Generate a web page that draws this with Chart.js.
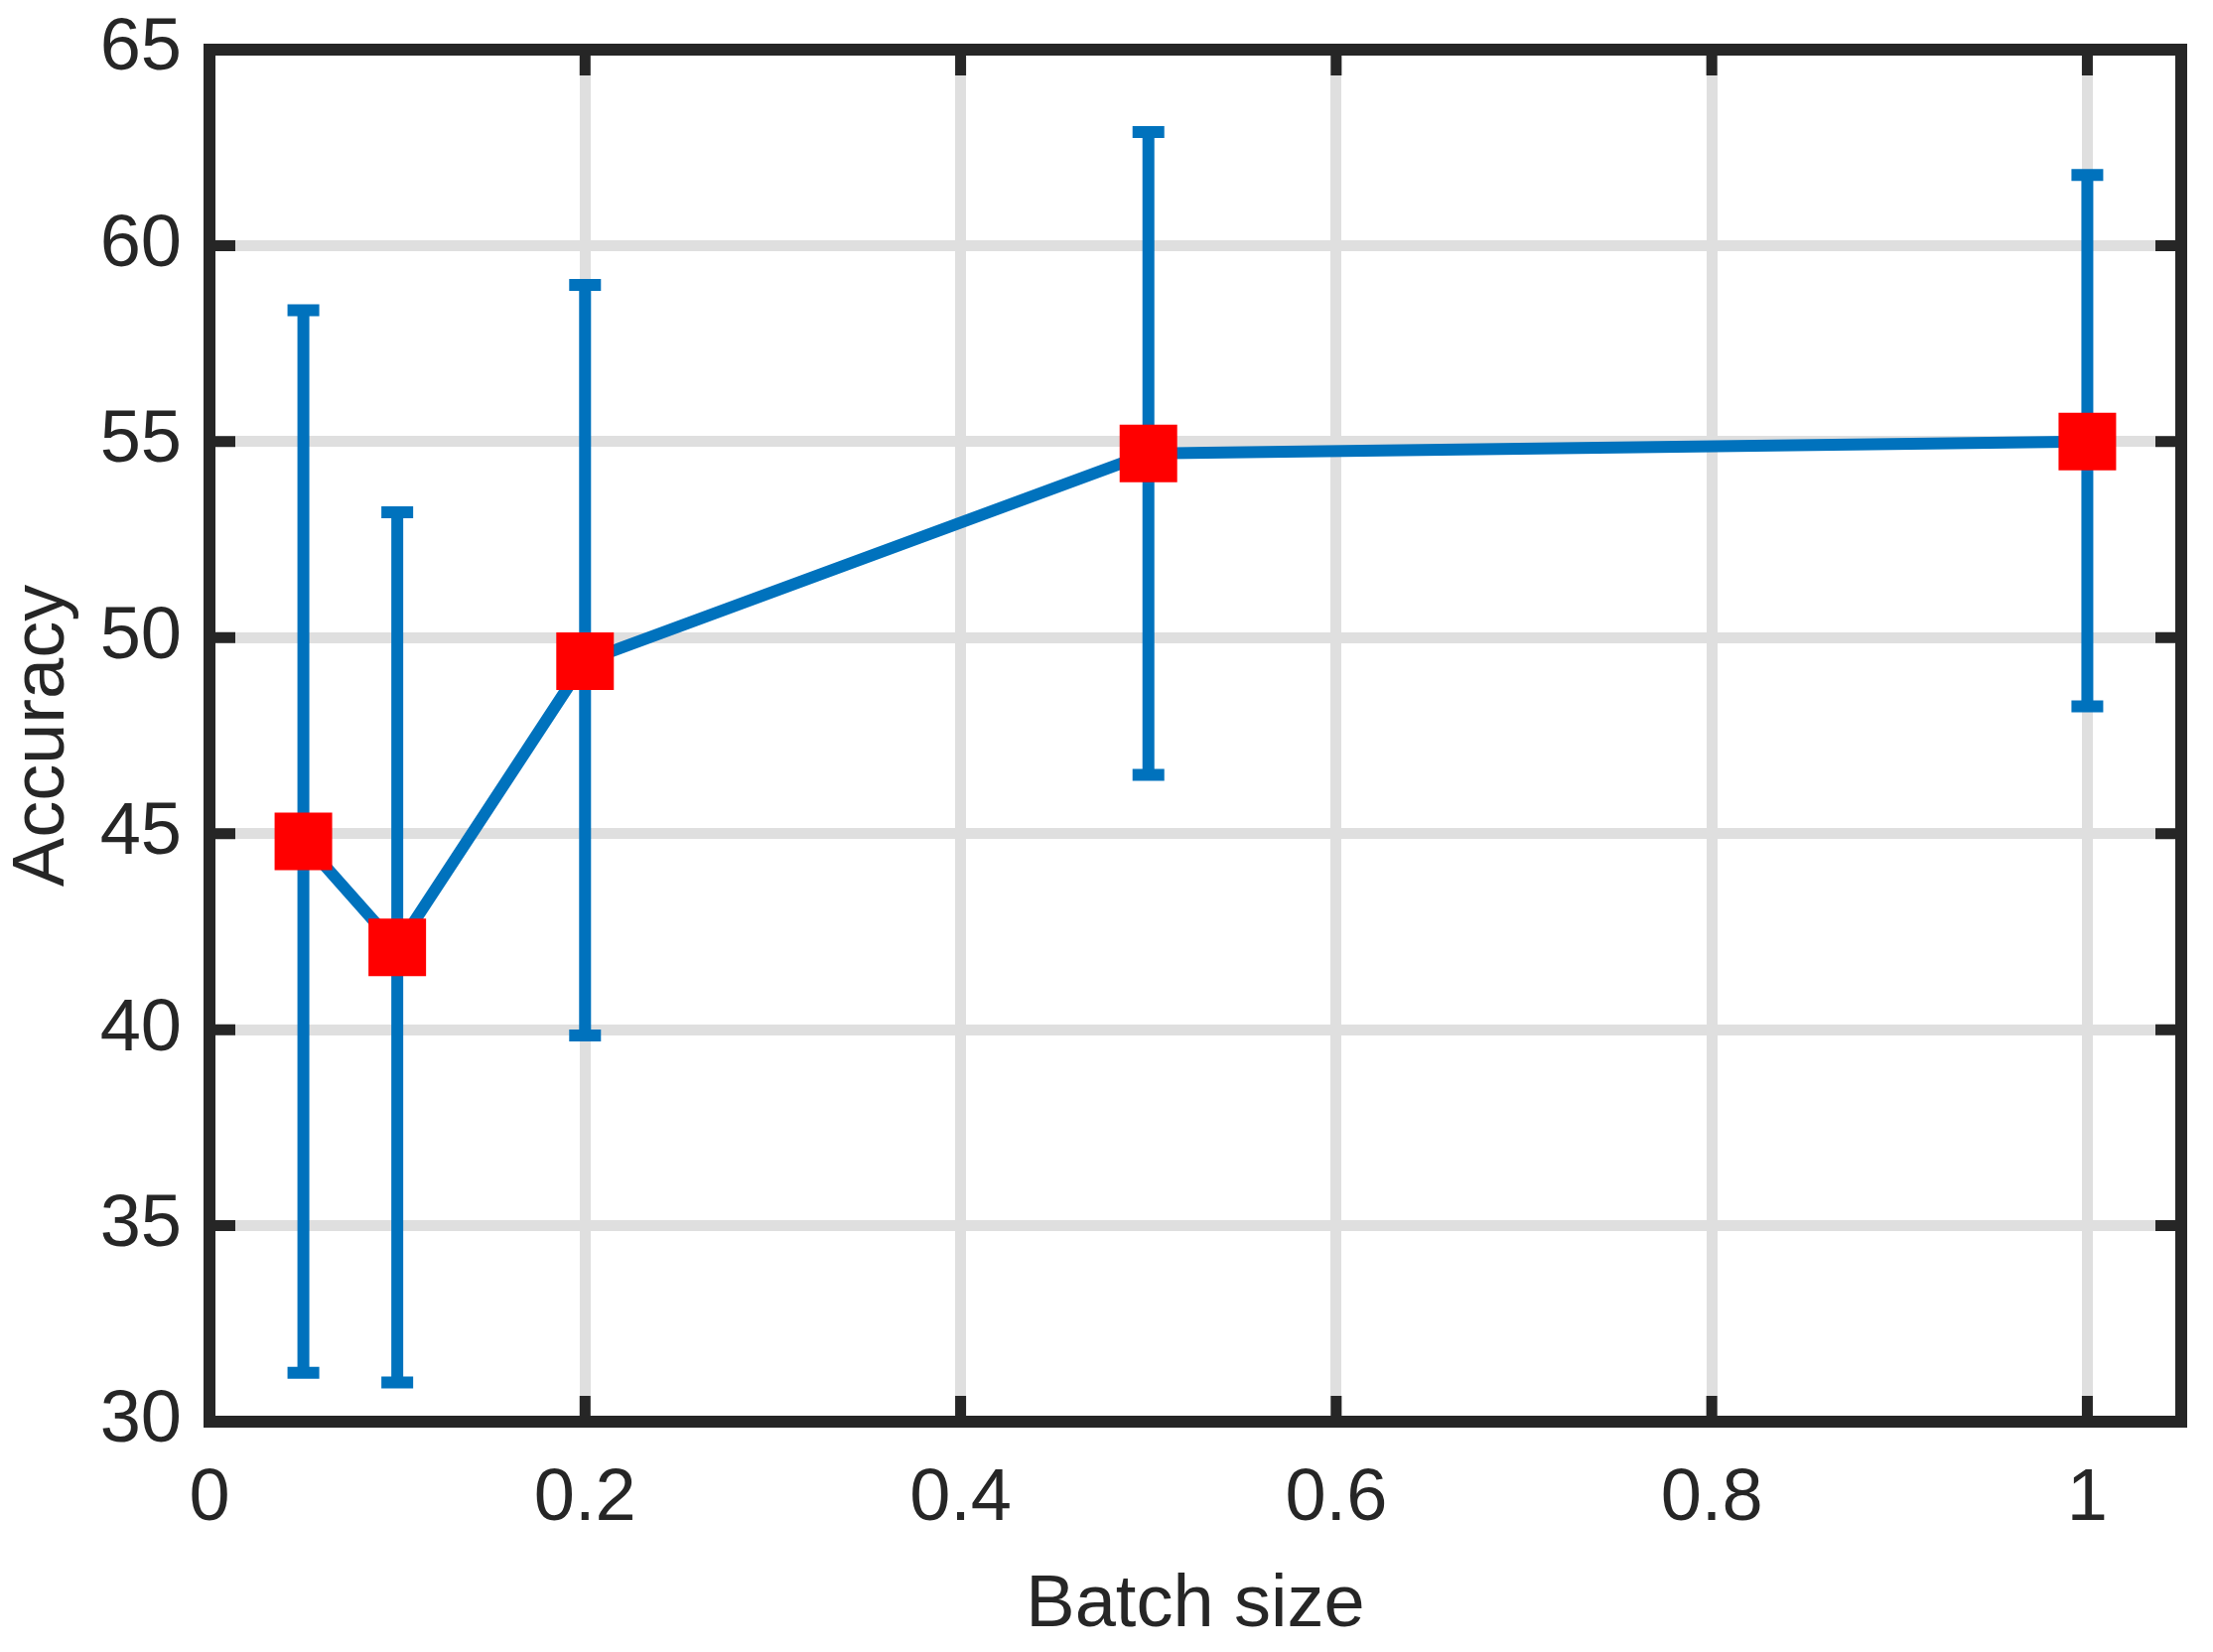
<!DOCTYPE html>
<html>
<head>
<meta charset="utf-8">
<script src="https://cdn.jsdelivr.net/npm/chart.js@4/dist/chart.umd.min.js"></script>
<style>
  html, body { margin: 0; padding: 0; background: #fff; }
</style>
</head>
<body>
<canvas id="accuracy" width="2229" height="1664"></canvas>
<script>
// data --------------------------------------------------------------------------
const batchSizes = [0.05, 0.1, 0.2, 0.5, 1];
const accuracy = [44.8, 42.1, 49.4, 54.7, 55.0];
const errLow = [31.25, 31.0, 39.85, 46.5, 48.25];
const errHigh = [58.35, 53.2, 59.0, 62.9, 61.8];

const xTicks = [0, 0.2, 0.4, 0.6, 0.8, 1];
const xTickLabels = ["0", "0.2", "0.4", "0.6", "0.8", "1"];
const yTicks = [30, 35, 40, 45, 50, 55, 60, 65];
const yTickLabels = ["30", "35", "40", "45", "50", "55", "60", "65"];

const lineBlue = "#0072BD";
const axisDark = "#262626";
const gridGrey = "#dfdfdf";
const font = "'Liberation Sans', Arial, sans-serif";

// error bars, drawn under the line -------------------------------------------
const errorBars = {
  id: "errorBars",
  beforeDatasetsDraw(chart) {
    const { ctx, scales } = chart;
    ctx.save();
    ctx.strokeStyle = lineBlue;
    ctx.lineWidth = 12;
    ctx.lineCap = "butt";
    batchSizes.forEach((b, i) => {
      const x = scales.x.getPixelForValue(b);
      const yLo = scales.y.getPixelForValue(errLow[i]);
      const yHi = scales.y.getPixelForValue(errHigh[i]);
      ctx.beginPath();
      ctx.moveTo(x, yLo);
      ctx.lineTo(x, yHi);
      ctx.moveTo(x - 16, yLo);
      ctx.lineTo(x + 16, yLo);
      ctx.moveTo(x - 16, yHi);
      ctx.lineTo(x + 16, yHi);
      ctx.stroke();
    });
    ctx.restore();
  },
};

// box frame with inward ticks ---------------------------------------------------
const frameBox = {
  id: "frameBox",
  beforeDatasetsDraw(chart) {
    const { ctx, chartArea: a, scales } = chart;
    const len = 26;
    ctx.save();
    ctx.strokeStyle = axisDark;
    ctx.lineWidth = 11;
    ctx.beginPath();
    xTicks.forEach((v) => {
      const x = scales.x.getPixelForValue(v);
      ctx.moveTo(x, a.bottom);
      ctx.lineTo(x, a.bottom - len);
      ctx.moveTo(x, a.top);
      ctx.lineTo(x, a.top + len);
    });
    yTicks.forEach((v) => {
      const y = scales.y.getPixelForValue(v);
      ctx.moveTo(a.left, y);
      ctx.lineTo(a.left + len, y);
      ctx.moveTo(a.right, y);
      ctx.lineTo(a.right - len, y);
    });
    ctx.stroke();
    ctx.lineWidth = 12;
    ctx.strokeRect(a.left, a.top, a.right - a.left, a.bottom - a.top);
    ctx.restore();
  },
};

new Chart(document.getElementById("accuracy"), {
  type: "scatter",
  data: {
    datasets: [
      {
        data: batchSizes.map((b, i) => ({ x: b, y: accuracy[i] })),
        showLine: true,
        borderColor: lineBlue,
        borderWidth: 12,
        pointStyle: "rect",
        pointRadius: 41,
        pointHoverRadius: 41,
        pointBackgroundColor: "#ff0000",
        pointBorderWidth: 0,
        tension: 0,
        clip: false,
      },
    ],
  },
  plugins: [errorBars, frameBox],
  options: {
    responsive: false,
    animation: false,
    events: [],
    layout: { autoPadding: false, padding: { left: 0, top: 50, right: 32, bottom: 0 } },
    plugins: {
      legend: { display: false },
      tooltip: { enabled: false },
    },
    scales: {
      x: {
        type: "linear",
        min: 0,
        max: 1.05,
        afterBuildTicks: (s) => { s.ticks = xTicks.map((v) => ({ value: v })); },
        afterFit: (s) => { s.height = 232; },
        border: { display: false },
        grid: { color: gridGrey, lineWidth: 11, drawTicks: false },
        ticks: {
          padding: 34,
          color: axisDark,
          font: { family: font, size: 74 },
          callback: (v) => xTickLabels[xTicks.indexOf(v)],
          maxRotation: 0,
        },
        title: {
          display: true,
          text: "Batch size",
          color: axisDark,
          font: { family: font, size: 74, lineHeight: 1 },
          padding: { top: 0, bottom: 9 },
        },
      },
      y: {
        min: 30,
        max: 65,
        afterBuildTicks: (s) => { s.ticks = yTicks.map((v) => ({ value: v })); },
        afterFit: (s) => { s.width = 211; },
        border: { display: false },
        grid: { color: gridGrey, lineWidth: 11, drawTicks: false },
        ticks: {
          padding: 28,
          color: axisDark,
          // small lineHeight keeps the top label from pushing the plot down
          font: { family: font, size: 74, lineHeight: 0.4 },
          callback: (v) => yTickLabels[yTicks.indexOf(v)],
        },
        title: {
          display: true,
          text: "Accuracy",
          color: axisDark,
          font: { family: font, size: 74, lineHeight: 1 },
          padding: { top: 7, bottom: 0 },
        },
      },
    },
  },
});
</script>
</body>
</html>
